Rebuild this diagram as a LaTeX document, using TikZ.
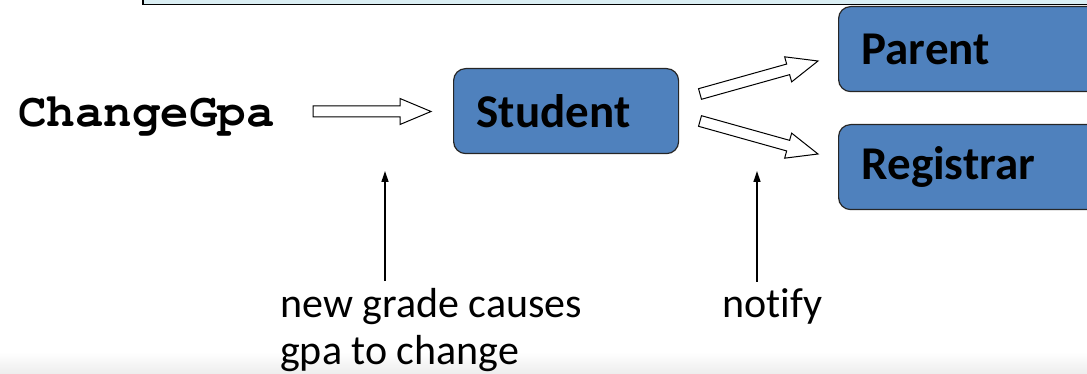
\documentclass[tikz,border=0pt]{standalone}
\usepackage[T1,TU]{fontenc}
\usepackage{fontspec}
\setmainfont{Carlito}[Ligatures=CommonOff]
\newcommand\codefont{\fontencoding{T1}\fontfamily{pcr}\fontseries{b}\selectfont}
\usetikzlibrary{calc,arrows.meta}

\definecolor{boxblue}{HTML}{4F81BD}
\definecolor{stripcyan}{HTML}{DAEEF3}

% hollow block arrow between two named points
\newcommand\fatarrow[2]{%
  \coordinate (#1-#2-base) at ($(#2)!31pt!(#1)$);
  \draw[line width=1pt,fill=white,line join=miter]
    ($(#1)!5.5pt!90:(#2)$) -- ($(#1-#2-base)!5.5pt!-90:(#1)$)
    -- ($(#1-#2-base)!13pt!-90:(#1)$) -- (#2)
    -- ($(#1-#2-base)!13pt!90:(#1)$) -- ($(#1-#2-base)!5.5pt!90:(#1)$)
    -- ($(#1)!5.5pt!-90:(#2)$) -- cycle;}

\begin{document}
\begin{tikzpicture}[x=1pt,y=-1pt,
    box/.style={draw=black!85,line width=1.2pt,fill=boxblue,rounded corners=12pt,
      minimum height=85pt,anchor=north west,align=left,inner xsep=23pt,
      font=\fontsize{47}{50}\selectfont\bfseries},
    label/.style={inner sep=0pt,font=\fontsize{42}{47}\selectfont},
    thinarrow/.style={line width=1.3pt,-{Triangle[length=11pt,width=7pt]}}]
\useasboundingbox (0,0) rectangle (1087,374);
\clip (0,0) rectangle (1087,374);

%\fill[white] (0,0) rectangle (1087,374);
\shade[top color=white,bottom color=black!7] (0,352) rectangle (1087,374);
\draw[line width=1.5pt,fill=stripcyan] (143,-20) rectangle (1120,4.5);

\node[box,text width=179pt] (student) at (453,68) {Student};
\node[box,text width=224pt] (parent) at (838,6) {Parent};
\node[box,text width=224pt] (registrar) at (838,124) {Registrar};

\node[anchor=base west,inner sep=0pt,
  font=\codefont\fontsize{47.5}{50}\selectfont] (change) at (18,127) {ChangeGpa};

\coordinate (inTail) at (313,111.5);
\coordinate (inTip) at (431,111.5);
\fatarrow{inTail}{inTip}

\coordinate (upTail) at (700,94);
\coordinate (upTip) at (818,61);
\fatarrow{upTail}{upTip}
\coordinate (downTail) at (700,121);
\coordinate (downTip) at (818,154);
\fatarrow{downTail}{downTip}

\node[label,anchor=north west,align=left] (cause) at (280,288) {new grade causes\\gpa to change};
\node[label,anchor=base west] (notify) at (722,317) {notify};

\coordinate (causeTip) at (385,171);
\coordinate (notifyTip) at (757,171);
\draw[thinarrow] ($(cause.north -| causeTip)+(0,-7)$) -- (causeTip);
\draw[thinarrow] ($(notify.north -| notifyTip)+(0,-6)$) -- (notifyTip);
\end{tikzpicture}
\end{document}
